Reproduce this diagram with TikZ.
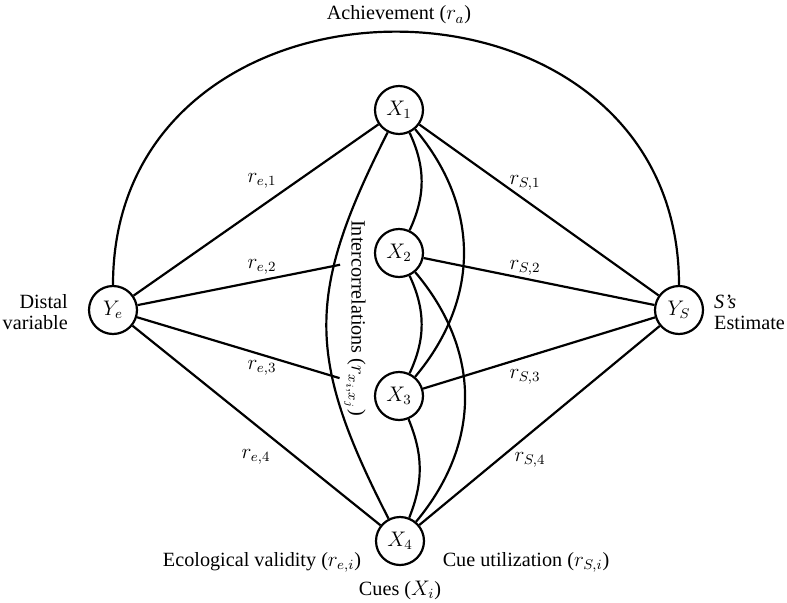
\documentclass[tikz,border=0pt]{standalone}
\usepackage{fontspec}
\setmainfont{Liberation Serif}
\usepackage{tikz}
\usetikzlibrary{calc,shapes,positioning}
\usetikzlibrary{arrows}
\usetikzlibrary{arrows.meta}

\begin{document}
\begin{tikzpicture}[x=0.02cm, y=-0.02cm, font=\fontsize{11.5}{12}\selectfont]
        \tikzstyle{vnode} = [draw=black, circle, line width=1.25pt, minimum size=0.96cm, inner sep=0pt]
        \tikzstyle{link} = [line width=1.25pt]
        \tikzstyle{lbl} = [inner sep=1pt]
        \useasboundingbox (0,0) rectangle (787,602);

        \node[vnode] (ye) at (113,310) {$Y_e$};
        \node[vnode] (ys) at (679,310) {$Y_S$};
        \node[vnode] (x1) at (399,110) {$X_1$};
        \node[vnode] (x2) at (399,253) {$X_2$};
        \node[vnode] (x3) at (399,396) {$X_3$};
        \node[vnode] (x4) at (400,541) {$X_4$};

        \node[align=right, anchor=east] (dist) at (74,312) {Distal\\variable};
        \node[align=left, anchor=west] (est) at (708,312) {\textit{S's}\\Estimate};
        \node[] (ach) at (399,15) {Achievement ($r_a$)};
        \node[] (eco) at (262,562) {Ecological validity ($r_{e,i}$)};
        \node[] (util) at (526,562) {Cue utilization ($r_{S,i}$)};
        \node[] (cues) at (400,590) {Cues ($X_i$)};
        \node[rotate=-90] (icor) at (355,318) {Intercorrelations ($r_{x_i,x_j}$)};

        \draw[link] (ye) to[out=90, in=90, looseness=1.53] (ys);
        \draw[link] (ye) -- (x1);
        \draw[link, shorten >=0.7cm] (ye) -- (x2);
        \draw[link, shorten >=0.74cm] (ye) -- (x3);
        \draw[link] (ye) -- (x4);
        \draw[link] (x1) -- (ys);
        \draw[link] (x2) -- (ys);
        \draw[link] (x3) -- (ys);
        \draw[link] (x4) -- (ys);

        \draw[link] (x1) to[bend left=25] (x2);
        \draw[link] (x2) to[bend left=25] (x3);
        \draw[link] (x3) to[bend left=22] (x4);
        \draw[link] (x1) to[bend left=40, looseness=1.05] (x3);
        \draw[link] (x2) to[bend left=40, looseness=1.05] (x4);
        \draw[link] (x1) to[bend right=27, looseness=1.2] (x4);

        \node[lbl] at (262,181) {$r_{e,1}$};
        \node[lbl] at (262,267) {$r_{e,2}$};
        \node[lbl] at (262,368) {$r_{e,3}$};
        \node[lbl] at (256,457) {$r_{e,4}$};
        \node[lbl] at (525,183) {$r_{S,1}$};
        \node[lbl] at (525,268) {$r_{S,2}$};
        \node[lbl] at (525,377) {$r_{S,3}$};
        \node[lbl] at (530,460) {$r_{S,4}$};
\end{tikzpicture}
\end{document}
